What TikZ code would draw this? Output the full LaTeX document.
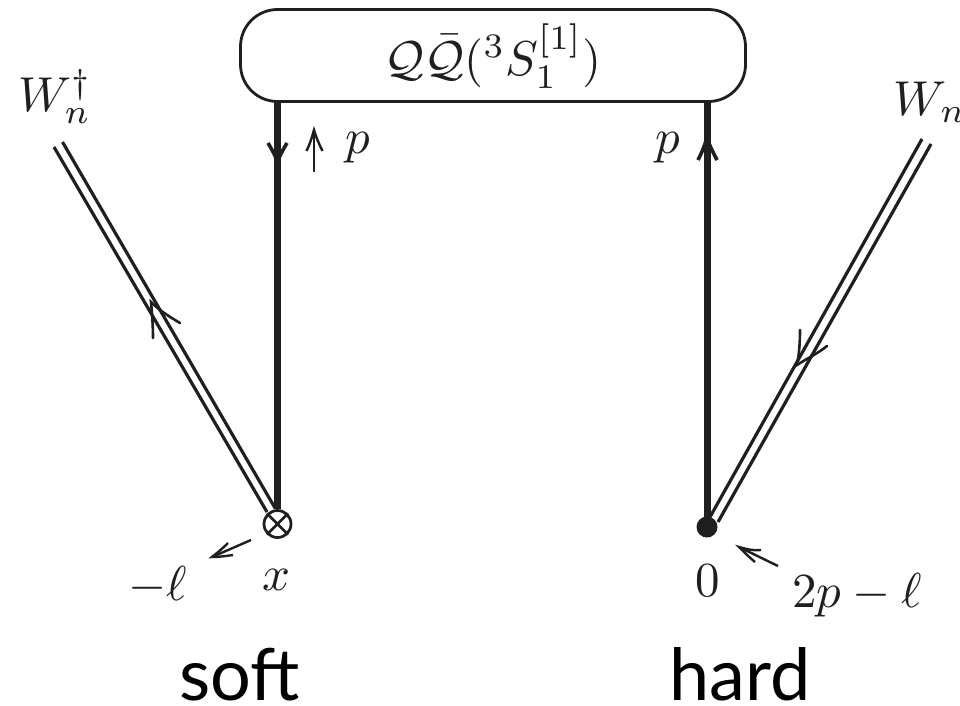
\documentclass[tikz,border=0pt]{standalone}
\usepackage{fontspec}
\newfontfamily\gillish{Lato}
\usepackage{amsmath}
\tikzset{
  x=1pt,y=-1pt,
  ink/.style={color=black!88},
  thickline/.style={ink,line width=7pt},
  dbl/.style={ink,line width=3.2pt},
  barb/.style={ink,line width=2.6pt,line cap=round,line join=miter},
  heavybarb/.style={ink,line width=3.6pt,line join=miter},
  thin arrow/.style={ink,line width=2.4pt},
  mathlabel/.style={ink,inner sep=0pt,scale=4.9},
  caption/.style={inner sep=0pt,font=\gillish\fontsize{72}{80}\selectfont,text=black}
}
\begin{document}
\begin{tikzpicture}
\useasboundingbox (0,0) rectangle (960,705);
% box
\node[draw,ink,line width=2.8pt,rounded corners=37pt,minimum width=505pt,minimum height=92pt,inner sep=0pt] (box) at (493,55.5) {};
\node[mathlabel] (boxtext) at (493,56) {$\mathcal{Q}\bar{\mathcal{Q}}({}^3S_1^{[1]})$};
% vertices
\coordinate (ltop) at (277.5,102);
\coordinate (rtop) at (707,102);
\node[draw,ink,circle,line width=2.8pt,minimum size=27pt,inner sep=0pt] (cross) at (277.5,524) {};
\node[fill=black!88,circle,minimum size=21pt,inner sep=0pt] (dot) at (707,527) {};
\draw[ink,line width=2.6pt] (cross.45) -- (cross.225) (cross.135) -- (cross.315);
% thick lines
\draw[thickline] (ltop) -- (cross.north);
\draw[thickline] (rtop) -- (dot.center);
% thick arrowheads
\coordinate (lt) at (277.5,163); \coordinate (la) at (268,143); \coordinate (lb) at (287,143);
\draw[heavybarb] (la) .. controls (272,150) and (276,156) .. (lt) .. controls (279,156) and (283,150) .. (lb);
\coordinate (rt) at (707,137); \coordinate (ra) at (698,160); \coordinate (rb) at (717,160);
\draw[heavybarb] (ra) .. controls (702,152) and (705,145) .. (rt) .. controls (709,145) and (713,152) .. (rb);
% double lines
\coordinate (a1) at (54,147); \coordinate (a2) at (267,512);
\coordinate (b1) at (62.5,142); \coordinate (b2) at (275,508);
\coordinate (c1) at (922,139); \coordinate (c2) at (710,517);
\coordinate (d1) at (931,144); \coordinate (d2) at (718,522);
\draw[dbl] (a1) -- (a2);
\draw[dbl] (b1) -- (b2);
\draw[dbl] (c1) -- (c2);
\draw[dbl] (d1) -- (d2);
% fine arrowheads on double lines
\coordinate (e0) at (151,302); \coordinate (e1) at (153,338); \coordinate (e2) at (180,323);
\draw[barb] (e1) .. controls (153,325) and (152,313) .. (e0) .. controls (160,311) and (170,317) .. (e2);
\coordinate (f0) at (797,365); \coordinate (f1) at (800,330); \coordinate (f2) at (827,346);
\draw[barb] (f1) .. controls (800,343) and (799,355) .. (f0) .. controls (806,359) and (817,354) .. (f2);
% momentum arrows
\coordinate (p0) at (314,172); \coordinate (p1) at (314,130); \coordinate (p2) at (306.5,151); \coordinate (p3) at (322.5,151);
\draw[thin arrow] (p0) -- (p1);
\draw[thin arrow] (p2) .. controls (310,144) and (312,137) .. (p1) .. controls (316,137) and (319,144) .. (p3);
\coordinate (m0) at (251,540); \coordinate (m1) at (212,557); \coordinate (m2) at (228,543); \coordinate (m3) at (233,555);
\draw[thin arrow] (m0) -- (m1);
\draw[thin arrow] (m2) .. controls (222,549) and (217,553) .. (m1) .. controls (219,557) and (226,556) .. (m3);
\coordinate (n0) at (778,566); \coordinate (n1) at (739,547); \coordinate (n2) at (761,550); \coordinate (n3) at (755,562);
\draw[thin arrow] (n0) -- (n1);
\draw[thin arrow] (n2) .. controls (754,551) and (746,549) .. (n1) .. controls (744,552) and (750,558) .. (n3);
% labels
\node[mathlabel] (wd) at (55,97) {$W_n^\dagger$};
\node[mathlabel,anchor=west] (w) at (893,102) {$W_n$};
\node[mathlabel] (pl) at (358,148) {$p$};
\node[mathlabel] (pr) at (668,148) {$p$};
\node[mathlabel] (x) at (276,580) {$x$};
\node[mathlabel] (ml) at (158,586) {$-\ell$};
\node[mathlabel] (zero) at (708,581) {$0$};
\node[mathlabel] (tpl) at (857,595) {$2p-\ell$};
\node[caption,anchor=base] (soft) at (239.5,700) {soft};
\node[caption,anchor=base] (hard) at (740,700) {hard};
\end{tikzpicture}
\end{document}
